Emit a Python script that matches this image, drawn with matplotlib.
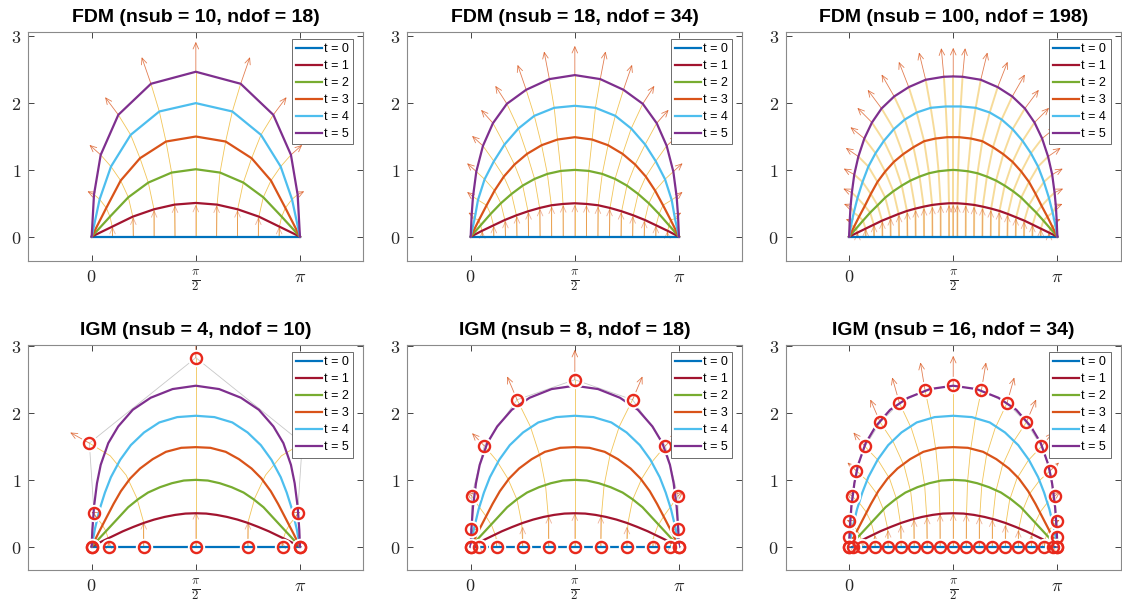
import numpy as np
import matplotlib

matplotlib.use("Agg")
import matplotlib.pyplot as plt

PI = np.pi

TIMES = [0, 1, 2, 3, 4, 5]
CURVE_COLORS = ["#0072BD", "#A2142F", "#77AC30", "#D95319", "#4DBEEE", "#7E2F8E"]
TRAJ_COLOR = "#EDB120"
ARROW_COLOR = "#D95319"
CP_COLOR = "#E8291C"

TITLES = [
    "FDM (nsub = 10, ndof = 18)",
    "FDM (nsub = 18, ndof = 34)",
    "FDM (nsub = 100, ndof = 198)",
    "IGM (nsub = 4, ndof = 10)",
    "IGM (nsub = 8, ndof = 18)",
    "IGM (nsub = 16, ndof = 34)",
]

# --- values (left half + centre node, mirrored about pi/2) ---
# rows: t = 0..5, columns: nodes / control points

FDM10_X = [
    [0, .314, .628, .942, 1.257, 1.571],
    [0, .31, .62, .94, 1.25, 1.571],
    [0, .276, .553, .854, 1.206, 1.571],
    [0, .22, .437, .729, 1.121, 1.571],
    [0, .12, .291, .588, 1.02, 1.571],
    [0, .035, .136, .402, .894, 1.571],
]
FDM10_Y = [
    [0, 0, 0, 0, 0, 0],
    [0, .15, .30, .41, .48, .505],
    [0, .30, .59, .81, .96, 1.01],
    [0, .43, .84, 1.175, 1.425, 1.50],
    [0, .56, 1.05, 1.525, 1.875, 2.0],
    [0, .63, 1.225, 1.825, 2.29, 2.47],
]
FDM10_V0 = [0, .15, .29, .40, .47, .48]
FDM10_U5 = [0, -.10, -.17, -.20, -.14, 0]
FDM10_V5 = [0, .05, .15, .265, .40, .45]

FDM18_X = [
    [0, .175, .349, .524, .698, .873, 1.047, 1.222, 1.396, 1.571],
    [0, .17, .345, .515, .69, .865, 1.04, 1.217, 1.393, 1.571],
    [0, .15, .30, .455, .616, .785, .964, 1.157, 1.361, 1.571],
    [0, .125, .24, .36, .50, .66, .85, 1.07, 1.31, 1.571],
    [0, .06, .11, .21, .35, .51, .72, .96, 1.26, 1.571],
    [0, .015, .035, .085, .185, .336, .546, .837, 1.187, 1.571],
]
FDM18_Y = [
    [0, 0, 0, 0, 0, 0, 0, 0, 0, 0],
    [0, .087, .17, .25, .32, .38, .43, .47, .49, .50],
    [0, .17, .34, .50, .64, .765, .865, .94, .985, 1.0],
    [0, .25, .47, .69, .90, 1.08, 1.24, 1.37, 1.455, 1.49],
    [0, .27, .55, .86, 1.13, 1.38, 1.62, 1.81, 1.93, 1.96],
    [0, .33, .60, .975, 1.36, 1.70, 1.99, 2.2, 2.36, 2.42],
]
FDM18_V0 = [0, .085, .165, .24, .31, .37, .42, .455, .475, .48]
FDM18_U5 = [0, -.05, -.09, -.14, -.165, -.18, -.175, -.13, -.08, 0]
FDM18_V5 = [0, .03, .07, .125, .15, .20, .27, .375, .415, .44]

# nsub = 100: every 4th node is shown, plus the centre node
FDM100_X = [
    [0, .126, .251, .377, .503, .628, .754, .880, 1.005, 1.131, 1.257, 1.382, 1.508, 1.571],
    [0, .125, .249, .373, .498, .622, .747, .873, .999, 1.126, 1.253, 1.380, 1.507, 1.571],
    [0, .105, .21, .318, .43, .545, .667, .795, .925, 1.063, 1.205, 1.35, 1.497, 1.571],
    [0, .076, .151, .237, .328, .428, .544, .675, .815, .971, 1.132, 1.304, 1.482, 1.571],
    [0, .03, .071, .127, .203, .291, .399, .525, .675, .841, 1.02, 1.232, 1.458, 1.571],
    [0, .01, .022, .042, .078, .14, .23, .345, .49, .68, .90, 1.155, 1.43, 1.571],
]
FDM100_Y = [
    [0, 0, 0, 0, 0, 0, 0, 0, 0, 0, 0, 0, 0, 0],
    [0, .06, .12, .18, .24, .29, .34, .385, .42, .45, .475, .49, .50, .50],
    [0, .12, .24, .36, .47, .585, .68, .765, .84, .90, .95, .98, .995, 1.0],
    [0, .15, .30, .46, .64, .82, .975, 1.12, 1.235, 1.34, 1.43, 1.47, 1.49, 1.49],
    [0, .17, .36, .58, .82, 1.05, 1.25, 1.435, 1.61, 1.755, 1.86, 1.93, 1.95, 1.95],
    [0, .24, .45, .66, .93, 1.20, 1.47, 1.71, 1.92, 2.10, 2.24, 2.35, 2.395, 2.40],
]
FDM100_V0 = [0, .06, .12, .18, .23, .28, .33, .37, .40, .43, .45, .47, .475, .48]
FDM100_U5 = [0, -.06, -.10, -.13, -.16, -.19, -.21, -.22, -.21, -.19, -.15, -.10, -.04, 0]
FDM100_V5 = [0, .02, .04, .06, .09, .13, .17, .22, .28, .33, .38, .41, .43, .43]

# IGM control points
IGM4_X = [
    [0, .262, .785, 1.571],
    [0, .25, .78, 1.571],
    [0, .21, .68, 1.571],
    [0, .15, .52, 1.571],
    [0, .08, .28, 1.571],
    [0, .035, -.035, 1.571],
]
IGM4_Y = [
    [0, 0, 0, 0],
    [0, .12, .38, .57],
    [0, .24, .73, 1.14],
    [0, .34, 1.07, 1.70],
    [0, .43, 1.36, 2.27],
    [0, .50, 1.55, 2.83],
]
IGM4_V0 = [0, .08, .37, .52]
IGM4_U5 = [0, -.04, -.29, 0]
IGM4_V5 = [0, .02, .16, .55]

IGM8_X = [
    [0, .131, .393, .785, 1.178, 1.571],
    [0, .12, .38, .77, 1.17, 1.571],
    [0, .10, .32, .70, 1.13, 1.571],
    [0, .07, .22, .56, 1.04, 1.571],
    [0, .04, .11, .39, .90, 1.571],
    [0, .01, .015, .205, .70, 1.571],
]
IGM8_Y = [
    [0, 0, 0, 0, 0, 0],
    [0, .05, .15, .35, .46, .50],
    [0, .11, .31, .70, .91, 1.0],
    [0, .16, .47, 1.02, 1.37, 1.50],
    [0, .21, .62, 1.29, 1.80, 2.0],
    [0, .26, .76, 1.51, 2.2, 2.5],
]
IGM8_V0 = [0, .03, .13, .30, .46, .50]
IGM8_U5 = [0, -.02, -.08, -.185, -.15, 0]
IGM8_V5 = [0, .01, .065, .19, .35, .45]

IGM16_X = [
    [0, .065, .196, .393, .589, .785, .982, 1.178, 1.374, 1.571],
    [0, .06, .19, .38, .58, .775, .975, 1.17, 1.37, 1.571],
    [0, .05, .16, .33, .52, .72, .93, 1.14, 1.355, 1.571],
    [0, .03, .11, .25, .42, .61, .83, 1.07, 1.31, 1.571],
    [0, .015, .055, .15, .27, .44, .67, .94, 1.24, 1.571],
    [0, 0, .005, .04, .105, .24, .47, .76, 1.146, 1.571],
]
IGM16_Y = [
    [0, 0, 0, 0, 0, 0, 0, 0, 0, 0],
    [0, .03, .09, .19, .28, .35, .415, .46, .49, .50],
    [0, .06, .18, .37, .55, .70, .82, .92, .97, 1.0],
    [0, .09, .26, .53, .79, 1.02, 1.21, 1.36, 1.44, 1.49],
    [0, .115, .33, .66, .99, 1.29, 1.56, 1.77, 1.90, 1.96],
    [0, .14, .38, .76, 1.14, 1.50, 1.86, 2.15, 2.34, 2.415],
]
IGM16_V0 = [0, .03, .10, .175, .25, .325, .41, .45, .49, .50]
IGM16_U5 = [0, -.01, -.04, -.085, -.13, -.175, -.15, -.11, -.07, 0]
IGM16_V5 = [0, .005, .02, .065, .12, .21, .345, .385, .42, .445]

# IGM curves (sampled along the drawn spline, left half)
SMOOTH_X = [
    [0, 1.571],
    [0, .157, .314, .471, .628, .785, .942, 1.10, 1.257, 1.414, 1.571],
    [0, .14, .28, .42, .55, .70, .85, 1.03, 1.21, 1.39, 1.571],
    [0, .10, .22, .33, .44, .58, .73, .92, 1.12, 1.35, 1.571],
    [0, .05, .12, .20, .29, .43, .59, .79, 1.02, 1.29, 1.571],
    [0, .01, .035, .08, .136, .25, .40, .62, .89, 1.22, 1.571],
]
SMOOTH_Y = [
    [0, 0],
    [0, .08, .155, .23, .295, .355, .405, .445, .475, .495, .50],
    [0, .15, .30, .45, .59, .71, .81, .89, .95, .99, 1.0],
    [0, .20, .43, .64, .83, 1.02, 1.17, 1.31, 1.42, 1.48, 1.49],
    [0, .27, .56, .81, 1.04, 1.30, 1.52, 1.71, 1.86, 1.94, 1.96],
    [0, .25, .60, .95, 1.225, 1.55, 1.80, 2.05, 2.23, 2.36, 2.41],
]


def mirror_x(row):
    row = np.asarray(row, dtype=float)
    return np.concatenate([row, PI - row[-2::-1]])


def mirror_y(row):
    row = np.asarray(row, dtype=float)
    return np.concatenate([row, row[-2::-1]])


def mirror_u(row):
    row = np.asarray(row, dtype=float)
    return np.concatenate([row, -row[-2::-1]])


def arrow(ax, x, y, u, v, alpha, lw=0.6):
    if abs(u) < 1e-9 and abs(v) < 1e-9:
        return
    ann = ax.annotate(
        "", xy=(x + u, y + v), xytext=(x, y), annotation_clip=False,
        arrowprops=dict(arrowstyle="->,head_length=0.45,head_width=0.2", lw=lw,
                        color=ARROW_COLOR, alpha=alpha, shrinkA=0, shrinkB=0),
        zorder=2,
    )
    ann.arrow_patch.set_clip_path(ax.patch)


def draw_nodes(ax, xs, ys, v0, u5, v5, traj_lw=0.6, traj_alpha=0.75):
    X = np.array([mirror_x(r) for r in xs])
    Y = np.array([mirror_y(r) for r in ys])
    V0, U5, V5 = mirror_y(v0), mirror_u(u5), mirror_y(v5)
    for j in range(X.shape[1]):
        ax.plot(X[:, j], Y[:, j], color=TRAJ_COLOR, lw=traj_lw, alpha=traj_alpha, zorder=1)
        arrow(ax, X[0, j], Y[0, j], 0, V0[j], 0.45)
        arrow(ax, X[5, j], Y[5, j], U5[j], V5[j], 0.75)
    return X, Y


def style_axes(ax, title, ylim):
    ax.set_xlim(-0.956, 4.097)
    ax.set_ylim(*ylim)
    ax.set_xticks([0, PI / 2, PI])
    ax.set_xticklabels([r"$0$", r"$\frac{\pi}{2}$", r"$\pi$"])
    ax.set_yticks([0, 1, 2, 3])
    ax.set_yticklabels([r"$0$", r"$1$", r"$2$", r"$3$"])
    ax.tick_params(direction="in", length=4, width=0.6, top=True, right=True,
                   labelsize=13, colors="#262626", pad=5)
    for s in ax.spines.values():
        s.set_color("#8a8a8a")
        s.set_linewidth(0.8)
    ax.set_title(title, fontsize=14, fontweight="bold", family="Liberation Sans", pad=7)
    leg = ax.legend(loc="upper right", bbox_to_anchor=(1 - 10 / 335, 1 - 7 / 229),
                    borderaxespad=0, prop={"family": "Liberation Sans", "size": 9},
                    handlelength=2.05, handletextpad=0.2, labelspacing=0.4, borderpad=0.35,
                    fancybox=False, framealpha=1, edgecolor="#555555")
    leg.get_frame().set_linewidth(0.6)
    leg.set_zorder(10)


plt.rcParams["mathtext.fontset"] = "cm"
fig = plt.figure(figsize=(11.22, 6.06), dpi=100)
W, H = 1122, 606
COL_LEFT = [28.3, 407.3, 785.7]
ROWS = [(31.7, 229, (-0.36, 3.07)), (345, 225, (-0.35, 3.02))]

fdm_data = [
    (FDM10_X, FDM10_Y, FDM10_V0, FDM10_U5, FDM10_V5),
    (FDM18_X, FDM18_Y, FDM18_V0, FDM18_U5, FDM18_V5),
    (FDM100_X, FDM100_Y, FDM100_V0, FDM100_U5, FDM100_V5),
]
igm_data = [
    (IGM4_X, IGM4_Y, IGM4_V0, IGM4_U5, IGM4_V5),
    (IGM8_X, IGM8_Y, IGM8_V0, IGM8_U5, IGM8_V5),
    (IGM16_X, IGM16_Y, IGM16_V0, IGM16_U5, IGM16_V5),
]

for row, (top, h, ylim) in enumerate(ROWS):
    for col in range(3):
        ax = fig.add_axes([COL_LEFT[col] / W, 1 - (top + h) / H, 335 / W, h / H])
        if row == 0:
            dense = col == 2
            X, Y = draw_nodes(ax, *fdm_data[col], traj_lw=1.4 if dense else 0.6,
                              traj_alpha=0.45 if dense else 0.75)
            for t in TIMES:
                ax.plot(X[t], Y[t], color=CURVE_COLORS[t], lw=1.6, label=f"t = {t}", zorder=3)
        else:
            X, Y = draw_nodes(ax, *igm_data[col])
            ax.plot(X[5], Y[5], color="#c8c8c8", lw=0.6, zorder=1.5)
            for t in TIMES:
                ax.plot(mirror_x(SMOOTH_X[t]), mirror_y(SMOOTH_Y[t]), color=CURVE_COLORS[t],
                        lw=1.6, label=f"t = {t}", zorder=3)
            for t in (0, 5):
                ax.plot(X[t], Y[t], "o", ms=10.5, mfc="none", mec="white", mew=2, zorder=5)
                ax.plot(X[t], Y[t], "o", ms=8, mfc="none", mec=CP_COLOR, mew=1.7, zorder=6)
        style_axes(ax, TITLES[row * 3 + col], ylim)

fig.savefig("out.png", dpi=100)
